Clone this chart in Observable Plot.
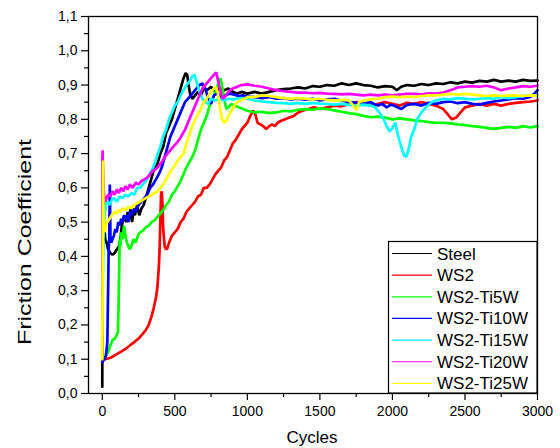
<!DOCTYPE html>
<html><head><meta charset="utf-8">
<script src="https://cdn.jsdelivr.net/npm/d3@7"></script>
<script src="https://cdn.jsdelivr.net/npm/@observablehq/plot@0.6"></script>
<style>body{margin:0;background:#fff}</style>
</head><body><div id="chart"></div><script>
const seriesNames = ["Steel","WS2","WS2-Ti5W","WS2-Ti10W","WS2-Ti15W","WS2-Ti20W","WS2-Ti25W"];
const seriesColors = ["#000000","#ff0000","#00ff00","#0000ff","#00ffff","#ff00ff","#ffff00"];

const steel = [[0,0.02],[2,0.69],[6,0.60],[12,0.50],[20,0.45],[30,0.44],[40,0.42],[55,0.41],[70,0.405],[85,0.41],[100,0.42],[115,0.43],[125,0.45],[135,0.49],[145,0.51],[155,0.52],[165,0.50],[175,0.53],[185,0.51],[195,0.54],[205,0.50],[215,0.53],[225,0.52],[240,0.55],[255,0.52],[270,0.54],[285,0.55],[300,0.57],[320,0.60],[340,0.63],[360,0.66],[380,0.67],[400,0.70],[420,0.72],[440,0.76],[460,0.78],[480,0.80],[500,0.83],[520,0.86],[540,0.89],[560,0.92],[575,0.935],[585,0.93],[595,0.90],[605,0.875],[620,0.86],[640,0.87],[660,0.88],[680,0.87],[700,0.89],[720,0.885],[750,0.895],[780,0.88],[810,0.89],[840,0.885],[870,0.89],[900,0.88],[930,0.875],[960,0.88],[1000,0.875],[1050,0.88],[1100,0.875],[1150,0.88],[1200,0.885],[1250,0.888],[1300,0.89],[1350,0.893],[1400,0.89],[1450,0.897],[1500,0.895],[1550,0.9],[1600,0.898],[1650,0.905],[1700,0.9],[1750,0.905],[1800,0.9],[1850,0.898],[1900,0.893],[1950,0.897],[2000,0.895],[2030,0.885],[2060,0.895],[2100,0.9],[2150,0.898],[2200,0.903],[2250,0.9],[2300,0.905],[2350,0.903],[2400,0.908],[2450,0.905],[2500,0.91],[2550,0.907],[2600,0.912],[2650,0.91],[2700,0.915],[2750,0.91],[2800,0.913],[2850,0.91],[2900,0.915],[2950,0.912],[3000,0.913]];

const ws2 = [[0,0.09],[5,0.10],[20,0.10],[40,0.102],[60,0.105],[80,0.11],[100,0.115],[130,0.122],[160,0.13],[190,0.14],[220,0.15],[250,0.16],[280,0.175],[300,0.185],[320,0.2],[340,0.225],[355,0.25],[370,0.28],[380,0.31],[390,0.37],[395,0.42],[400,0.5],[405,0.58],[410,0.59],[415,0.55],[420,0.48],[430,0.43],[440,0.42],[450,0.425],[460,0.44],[470,0.45],[480,0.46],[500,0.47],[520,0.48],[540,0.5],[560,0.51],[580,0.53],[600,0.54],[620,0.55],[640,0.56],[660,0.575],[680,0.58],[700,0.6],[720,0.6],[740,0.61],[760,0.625],[780,0.64],[800,0.65],[820,0.66],[840,0.68],[860,0.69],[880,0.71],[900,0.73],[920,0.74],[940,0.755],[960,0.77],[980,0.78],[1000,0.79],[1020,0.81],[1040,0.825],[1055,0.815],[1070,0.79],[1090,0.785],[1110,0.78],[1130,0.772],[1150,0.78],[1170,0.785],[1190,0.78],[1210,0.79],[1230,0.795],[1260,0.8],[1290,0.805],[1320,0.81],[1350,0.82],[1380,0.825],[1420,0.83],[1460,0.835],[1500,0.83],[1550,0.835],[1600,0.84],[1650,0.838],[1700,0.845],[1750,0.85],[1800,0.845],[1850,0.84],[1900,0.845],[1950,0.85],[2000,0.845],[2050,0.84],[2100,0.848],[2150,0.845],[2200,0.85],[2250,0.845],[2300,0.84],[2350,0.83],[2380,0.815],[2410,0.80],[2440,0.805],[2470,0.82],[2500,0.835],[2550,0.84],[2600,0.845],[2650,0.84],[2700,0.845],[2750,0.84],[2800,0.845],[2850,0.848],[2900,0.85],[2950,0.852],[3000,0.855]];

const ti5 = [[0,0.10],[10,0.105],[25,0.11],[40,0.12],[55,0.14],[70,0.155],[85,0.16],[100,0.17],[108,0.18],[112,0.25],[116,0.35],[120,0.45],[125,0.43],[130,0.47],[140,0.45],[150,0.49],[160,0.46],[170,0.44],[180,0.43],[190,0.42],[200,0.43],[215,0.45],[230,0.44],[245,0.46],[260,0.47],[280,0.475],[300,0.485],[320,0.49],[340,0.5],[360,0.505],[380,0.515],[400,0.525],[420,0.535],[440,0.55],[460,0.56],[480,0.58],[500,0.59],[520,0.605],[540,0.62],[560,0.64],[580,0.66],[600,0.675],[620,0.69],[640,0.71],[660,0.74],[680,0.77],[700,0.79],[720,0.81],[740,0.84],[760,0.86],[780,0.88],[800,0.905],[815,0.92],[825,0.9],[840,0.86],[855,0.83],[870,0.835],[890,0.845],[910,0.84],[940,0.835],[970,0.83],[1000,0.825],[1050,0.82],[1100,0.822],[1150,0.818],[1200,0.82],[1250,0.825],[1300,0.823],[1350,0.828],[1400,0.83],[1450,0.828],[1500,0.832],[1550,0.83],[1600,0.826],[1650,0.822],[1700,0.818],[1750,0.815],[1800,0.81],[1850,0.806],[1900,0.808],[1950,0.805],[2000,0.8],[2050,0.803],[2100,0.8],[2150,0.797],[2200,0.795],[2250,0.792],[2300,0.79],[2350,0.79],[2400,0.788],[2450,0.785],[2500,0.783],[2550,0.78],[2600,0.778],[2650,0.775],[2700,0.772],[2750,0.775],[2800,0.778],[2850,0.775],[2900,0.78],[2950,0.776],[3000,0.78]];

const ti10 = [[0,0.09],[5,0.095],[15,0.1],[25,0.11],[35,0.15],[40,0.3],[44,0.42],[48,0.45],[52,0.61],[56,0.46],[62,0.44],[70,0.45],[80,0.46],[90,0.48],[100,0.47],[110,0.5],[120,0.49],[130,0.51],[140,0.5],[150,0.52],[160,0.51],[170,0.52],[180,0.5],[190,0.53],[200,0.52],[215,0.54],[230,0.53],[250,0.55],[270,0.56],[290,0.57],[310,0.58],[330,0.6],[350,0.61],[370,0.625],[390,0.64],[410,0.66],[430,0.69],[450,0.72],[470,0.75],[490,0.77],[510,0.79],[530,0.81],[550,0.83],[570,0.85],[590,0.86],[610,0.87],[630,0.88],[650,0.89],[670,0.9],[690,0.905],[710,0.89],[730,0.86],[750,0.845],[770,0.87],[790,0.875],[810,0.87],[830,0.86],[850,0.87],[880,0.875],[910,0.872],[940,0.868],[970,0.87],[1000,0.866],[1050,0.865],[1100,0.862],[1150,0.865],[1200,0.86],[1250,0.862],[1300,0.858],[1350,0.86],[1400,0.857],[1450,0.86],[1500,0.855],[1550,0.858],[1600,0.86],[1650,0.855],[1700,0.85],[1750,0.848],[1800,0.845],[1850,0.85],[1900,0.84],[1930,0.845],[1960,0.835],[1990,0.843],[2020,0.838],[2060,0.83],[2100,0.842],[2150,0.845],[2200,0.84],[2250,0.848],[2300,0.845],[2350,0.85],[2400,0.852],[2450,0.847],[2500,0.85],[2550,0.845],[2600,0.843],[2650,0.848],[2700,0.852],[2750,0.855],[2800,0.858],[2850,0.862],[2900,0.86],[2950,0.865],[2980,0.875],[3000,0.885]];

const ti15 = [[0,0.18],[3,0.3],[8,0.45],[15,0.52],[25,0.55],[35,0.56],[50,0.55],[65,0.565],[80,0.57],[100,0.56],[120,0.575],[140,0.57],[160,0.58],[180,0.575],[200,0.585],[220,0.58],[240,0.6],[260,0.6],[280,0.61],[300,0.62],[320,0.635],[340,0.65],[360,0.67],[380,0.695],[400,0.72],[420,0.75],[440,0.77],[460,0.8],[480,0.82],[500,0.84],[520,0.85],[540,0.87],[560,0.885],[580,0.9],[600,0.91],[620,0.925],[635,0.93],[650,0.91],[670,0.88],[690,0.86],[710,0.85],[730,0.845],[750,0.86],[780,0.855],[810,0.86],[840,0.855],[870,0.86],[900,0.858],[950,0.862],[1000,0.86],[1050,0.855],[1100,0.852],[1150,0.85],[1200,0.848],[1250,0.847],[1300,0.845],[1350,0.848],[1400,0.845],[1450,0.848],[1500,0.846],[1550,0.845],[1600,0.843],[1650,0.845],[1700,0.842],[1750,0.84],[1800,0.843],[1850,0.84],[1880,0.835],[1910,0.82],[1940,0.8],[1960,0.78],[1980,0.765],[2000,0.775],[2020,0.79],[2040,0.75],[2060,0.72],[2080,0.695],[2095,0.69],[2110,0.71],[2130,0.75],[2150,0.77],[2170,0.8],[2200,0.82],[2230,0.835],[2270,0.85],[2300,0.855],[2350,0.86],[2400,0.858],[2450,0.862],[2500,0.86],[2550,0.858],[2600,0.86],[2650,0.862],[2700,0.86],[2750,0.865],[2800,0.862],[2850,0.865],[2900,0.868],[2950,0.87],[3000,0.87]];

const ti20 = [[0,0.13],[2,0.71],[6,0.62],[12,0.58],[20,0.56],[30,0.57],[40,0.58],[55,0.575],[70,0.59],[85,0.58],[100,0.595],[115,0.585],[130,0.6],[145,0.59],[160,0.605],[175,0.595],[190,0.61],[210,0.6],[230,0.615],[250,0.61],[270,0.62],[290,0.625],[310,0.63],[330,0.64],[350,0.65],[370,0.655],[390,0.665],[410,0.675],[430,0.69],[450,0.7],[470,0.71],[490,0.72],[510,0.73],[530,0.74],[550,0.755],[570,0.77],[590,0.79],[610,0.81],[630,0.83],[650,0.85],[670,0.87],[690,0.89],[710,0.9],[730,0.91],[750,0.92],[770,0.93],[785,0.937],[800,0.91],[815,0.88],[830,0.86],[845,0.865],[860,0.875],[880,0.885],[900,0.89],[930,0.895],[960,0.9],[1000,0.902],[1050,0.898],[1100,0.895],[1150,0.89],[1200,0.885],[1250,0.882],[1300,0.88],[1350,0.878],[1400,0.878],[1450,0.876],[1500,0.877],[1550,0.875],[1600,0.874],[1650,0.873],[1700,0.874],[1750,0.872],[1800,0.87],[1850,0.872],[1900,0.87],[1950,0.872],[2000,0.87],[2050,0.872],[2100,0.874],[2150,0.874],[2200,0.873],[2250,0.876],[2300,0.875],[2350,0.878],[2400,0.885],[2450,0.893],[2500,0.895],[2550,0.897],[2600,0.895],[2650,0.898],[2700,0.893],[2750,0.885],[2800,0.89],[2850,0.893],[2900,0.897],[2950,0.895],[3000,0.898]];

const ti25 = [[0,0.1],[3,0.4],[5,0.68],[8,0.55],[12,0.5],[18,0.47],[25,0.49],[35,0.5],[50,0.51],[65,0.52],[80,0.53],[95,0.525],[110,0.535],[125,0.53],[140,0.54],[160,0.535],[180,0.545],[200,0.54],[220,0.55],[240,0.555],[260,0.56],[280,0.565],[300,0.57],[320,0.575],[340,0.58],[360,0.585],[380,0.59],[400,0.6],[420,0.61],[440,0.625],[460,0.64],[480,0.655],[500,0.665],[520,0.68],[540,0.69],[560,0.7],[580,0.73],[600,0.755],[620,0.78],[640,0.8],[660,0.815],[680,0.83],[700,0.85],[720,0.86],[740,0.875],[760,0.885],[780,0.895],[795,0.88],[810,0.84],[825,0.8],[840,0.79],[855,0.795],[870,0.81],[890,0.825],[910,0.84],[930,0.85],[950,0.855],[980,0.86],[1000,0.865],[1050,0.865],[1100,0.87],[1150,0.868],[1200,0.865],[1250,0.862],[1300,0.86],[1350,0.862],[1400,0.86],[1450,0.858],[1500,0.86],[1550,0.857],[1600,0.855],[1650,0.857],[1700,0.855],[1730,0.84],[1750,0.826],[1770,0.85],[1800,0.855],[1850,0.858],[1900,0.86],[1950,0.865],[2000,0.866],[2050,0.865],[2100,0.866],[2150,0.865],[2200,0.868],[2250,0.87],[2300,0.87],[2350,0.872],[2400,0.874],[2450,0.872],[2500,0.874],[2550,0.872],[2600,0.87],[2650,0.868],[2700,0.87],[2750,0.868],[2800,0.869],[2850,0.87],[2900,0.868],[2950,0.87],[3000,0.869]];

const xTicks = [0,500,1000,1500,2000,2500,3000];
const xTickLabels = ["0","500","1000","1500","2000","2500","3000"];
const xMinor = [250,750,1250,1750,2250,2750];
const yTicks = [0,0.1,0.2,0.3,0.4,0.5,0.6,0.7,0.8,0.9,1.0,1.1];
const yTickLabels = ["0,0","0,1","0,2","0,3","0,4","0,5","0,6","0,7","0,8","0,9","1,0","1,1"];
const yMinor = [0.05,0.15,0.25,0.35,0.45,0.55,0.65,0.75,0.85,0.95,1.05];

const seriesData = [steel, ws2, ti5, ti10, ti15, ti20, ti25];
const font = "Arial, 'Liberation Sans', sans-serif";

const lines = seriesData.map((d, i) => Plot.line(d, {
  x: p => p[0], y: p => p[1], stroke: seriesColors[i], strokeWidth: 2.7, strokeLinejoin: "miter"
}));

const chart = Plot.plot({
  width: 560, height: 448,
  marginLeft: 88, marginRight: 23, marginTop: 16, marginBottom: 55,
  style: {fontFamily: font, fontSize: "14px", color: "#000", background: "#fff"},
  x: {domain: [-95, 3000]},
  y: {domain: [0, 1.1]},
  marks: [
    ...lines,
    Plot.frame({stroke: "#000", strokeWidth: 1.3}),
    Plot.axisX({ticks: xMinor, tickSize: 4, tickFormat: () => "", label: null, strokeWidth: 1.2}),
    Plot.axisX({ticks: xTicks, tickSize: 7, tickPadding: 6, tickFormat: d => xTickLabels[xTicks.indexOf(d)], label: null, strokeWidth: 1.2, fontSize: 14}),
    Plot.axisY({ticks: yMinor, tickSize: 4, tickFormat: () => "", label: null, strokeWidth: 1.2}),
    Plot.axisY({ticks: yTicks, tickSize: 7, tickPadding: 4, tickFormat: d => yTickLabels[yTicks.indexOf(d)], label: null, strokeWidth: 1.2, fontSize: 14})
  ]
});

const svg = d3.select(chart);
svg.append("text").attr("x", 312).attr("y", 443).attr("text-anchor", "middle")
  .attr("font-family", font).attr("font-size", 17).attr("fill", "#000").text("Cycles");
svg.append("text").attr("transform", "translate(31,242) rotate(-90)").attr("text-anchor", "middle")
  .attr("font-family", font).attr("font-size", 19).attr("fill", "#000")
  .attr("textLength", 206).attr("lengthAdjust", "spacingAndGlyphs").text("Friction Coefficient");

const lg = svg.append("g");
lg.append("rect").attr("x", 388.5).attr("y", 241.5).attr("width", 148.5).attr("height", 151.5)
  .attr("fill", "#fff").attr("stroke", "#000").attr("stroke-width", 1.2);
seriesNames.forEach((n, i) => {
  const cy = 253.5 + i * 21.65;
  lg.append("line").attr("x1", 392).attr("x2", 432).attr("y1", cy).attr("y2", cy)
    .attr("stroke", seriesColors[i]).attr("stroke-width", 1.2);
  lg.append("text").attr("x", 437).attr("y", cy + 6).attr("text-anchor", "start")
    .attr("font-family", font).attr("font-size", 17).attr("fill", "#000").text(n);
});

document.getElementById("chart").appendChild(chart);
</script></body></html>
